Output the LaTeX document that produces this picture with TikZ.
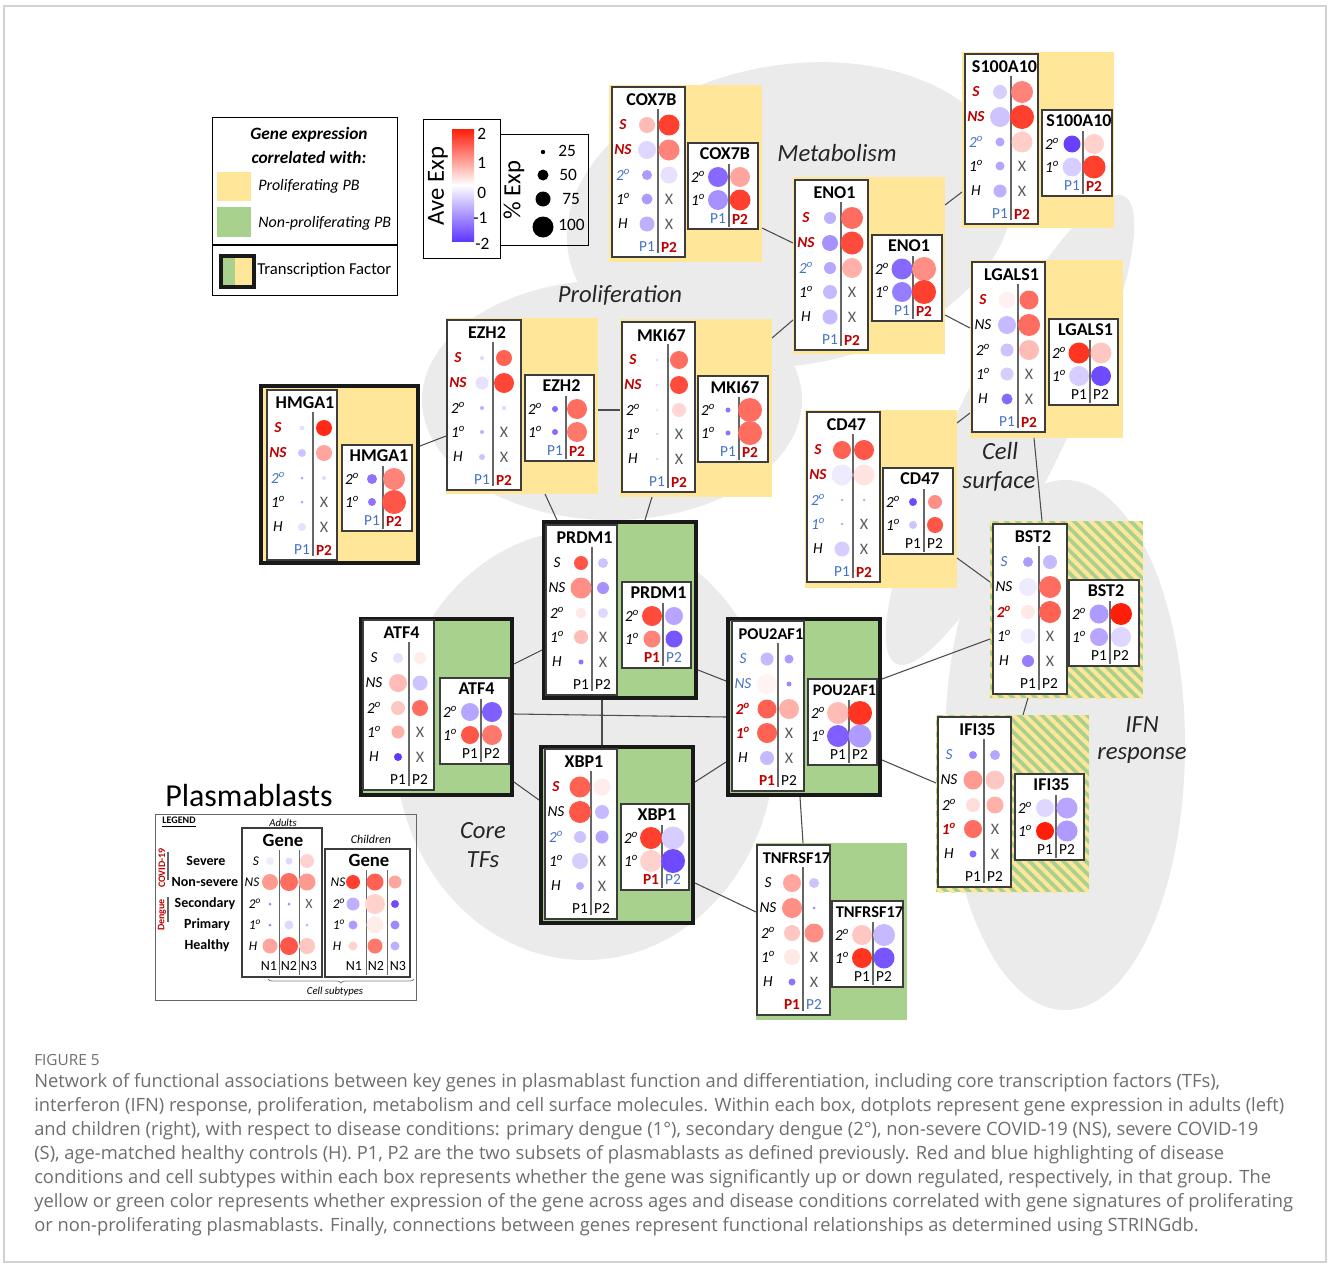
\documentclass[tikz,border=0pt]{standalone}
\usepackage{fontspec}
\setmainfont{Carlito}
\newfontfamily\capfont{Open Sans}
\usetikzlibrary{calc,patterns.meta,decorations.pathreplacing}
\definecolor{ybg}{HTML}{FFE699}
\definecolor{gbg}{HTML}{A9D18E}
\definecolor{lred}{HTML}{C00000}
\definecolor{lblue}{HTML}{4472C4}
\definecolor{dred}{RGB}{255,30,10}
\definecolor{dblue}{RGB}{95,55,255}
\definecolor{blob}{HTML}{EBEBEB}
\definecolor{pframe}{HTML}{3C3C3C}
\definecolor{capgray}{HTML}{6E6E6E}
\newcommand\dg{\textsuperscript{o}}
\newcommand\LR[1]{\textcolor{lred}{\bfseries #1}}
\newcommand\LB[1]{\textcolor{lblue}{#1}}
\newcommand\FB[1]{\textcolor{lblue}{#1}}
\newcommand\FR[1]{\textcolor{lred}{\bfseries #1}}
\tikzset{
  panel/.style={draw=pframe, line width=1.5pt, fill=white},
  vdiv/.style={draw=black!60, line width=0.9pt},
  gtitle/.style={font=\fontsize{13.5}{14}\selectfont\bfseries, inner sep=0pt},
  rlab/.style={font=\fontsize{11.5}{12}\selectfont\itshape, inner sep=0pt},
  foot/.style={font=\fontsize{11.5}{12}\selectfont, inner sep=0pt},
  xlab/.style={font=\fontsize{12}{12}\selectfont, text=black!65, inner sep=0pt},
  conn/.style={draw=black!70, line width=0.8pt},
  bgbase/.style={inner sep=0pt, outer sep=0pt, draw=none},
  ybox/.style={bgbase, fill=ybg},
  gbox/.style={bgbase, fill=gbg},
  ytf/.style={bgbase, fill=ybg, draw=black!90, line width=3.5pt},
  gtf/.style={bgbase, fill=gbg, draw=black!90, line width=3.5pt},
  hbox/.style={bgbase, fill=gbg, postaction={pattern={Lines[angle=-45,distance=6pt,line width=3pt]}, pattern color=ybg}},
  grp/.style={font=\fontsize{18.5}{19}\selectfont\itshape, text=black!85, inner sep=0pt},
  capline/.style={anchor=west, inner sep=0pt, text=capgray, font=\capfont\fontsize{13.75}{14}\selectfont},
  legtxt/.style={inner sep=0pt, font=\fontsize{12}{13}\selectfont},
  lgl/.style={inner sep=0pt, font=\fontsize{10.5}{11}\selectfont\bfseries},
}
\newcommand\bgbox[6]{\node[#1, anchor=north west, minimum width={(#5-#3)*0.75pt}, minimum height={(#6-#4)*0.75pt}] (#2) at (#3,#4) {};}
\newcommand\Apanel[4]{%
  \draw[panel] (0,0) rectangle (#1,170);
  \node[gtitle] at ({#1/2+3},13) {#2};
  \draw[vdiv] (46,22) -- (46,166);
  \node[foot] at (35,160) {#3};
  \node[foot] at (57,160) {#4};
}
\newcommand\Arow[6]{%
  \node[rlab] at (11,#1) {#2};
  \fill[#3] (35,#1) circle[radius=#4*0.75pt];
  \fill[#5] (57,#1) circle[radius=#6*0.75pt];
}
\newcommand\ArowX[4]{%
  \node[rlab] at (11,#1) {#2};
  \fill[#3] (35,#1) circle[radius=#4*0.75pt];
  \node[xlab] at (57,#1) {X};
}
\newcommand\Cpanel[4]{%
  \draw[panel] (0,0) rectangle (#1,86);
  \node[gtitle] at ({#1/2+2},11) {#2};
  \draw[vdiv] (41,21) -- (41,84);
  \node[foot] at (30,76) {#3};
  \node[foot] at (52,76) {#4};
}
\newcommand\Crow[6]{%
  \node[rlab] at (10,#1) {#2};
  \fill[#3] (30,#1) circle[radius=#4*0.75pt];
  \fill[#5] (52,#1) circle[radius=#6*0.75pt];
}
\newcommand\ld[4]{\fill[#3] (#1,#2) circle[radius=#4*0.75pt];}
\begin{document}
\begin{tikzpicture}[x=0.75pt,y=-0.75pt]
\useasboundingbox (0,0) rectangle (1328,1263);
\fill[white] (0,0) rectangle (1328,1263);
\draw[gray!35, line width=0.8pt] (4,6) rectangle (1326,1262);

% ---- background group blobs
\fill[blob, rotate around={10:(790,215)}] (790,215) ellipse [x radius=225, y radius=150];
\fill[blob] (612,400) ellipse [x radius=190, y radius=120];
\fill[blob] (585,745) ellipse [x radius=190, y radius=215];
\fill[blob, rotate around={64:(1010,430)}] (1010,430) ellipse [x radius=260, y radius=55];
\fill[blob] (1065,745) ellipse [x radius=120, y radius=265];

% ---- group labels
\node[grp] (gmet) at (837,153) {Metabolism};
\node[grp] (gpro) at (620,295) {Proliferation};
\node[grp] (gcs1) at (1000,451) {Cell};
\node[grp] (gcs2) at (999,481) {surface};
\node[grp] (gct1) at (483,831) {Core};
\node[grp] (gct2) at (483,860) {TFs};
\node[grp] (gif1) at (1142,725) {IFN};
\node[grp] (gif2) at (1142,755) {response};

% ================= gene boxes
% COX7B
\bgbox{ybox}{cox}{609}{85}{762}{262}
\begin{scope}[shift={(612,87)}]
 \Apanel{73}{COX7B}{\FB{P1}}{\FR{P2}}
 \Arow{38}{\LR{S}}{dred!30}{8}{dred!85}{10.5}
 \Arow{63}{\LR{NS}}{dblue!20}{9}{dred!55}{10.5}
 \Arow{88}{\LB{2\dg}}{dblue!50}{5}{dblue!15}{8.5}
 \ArowX{112}{1\dg}{dblue!50}{5.5}
 \ArowX{137}{H}{dblue!40}{7.5}
\end{scope}
\begin{scope}[shift={(688,143)}]
 \Cpanel{70}{COX7B}{\FB{P1}}{\FR{P2}}
 \Crow{34}{2\dg}{dblue!75}{10}{dred!40}{10}
 \Crow{57}{1\dg}{dblue!55}{10}{dred!85}{10.5}
\end{scope}

% S100A10
\bgbox{ybox}{s100}{962}{52}{1114}{228}
\begin{scope}[shift={(965,54)}]
 \Apanel{73}{S100A10}{\FB{P1}}{\FR{P2}}
 \Arow{38}{\LR{S}}{dblue!25}{7}{dred!55}{11}
 \Arow{63}{\LR{NS}}{dblue!30}{10}{dred!85}{12}
 \Arow{88}{\LB{2\dg}}{dblue!45}{4.5}{dred!22}{10.5}
 \ArowX{112}{1\dg}{dblue!45}{4.5}
 \ArowX{137}{H}{dblue!40}{6.5}
\end{scope}
\begin{scope}[shift={(1042,110)}]
 \Cpanel{70}{S100A10}{\FB{P1}}{\FR{P2}}
 \Crow{34}{2\dg}{dblue!95}{8.5}{dred!20}{10}
 \Crow{57}{1\dg}{dblue!25}{9.5}{dred!85}{11.5}
\end{scope}

% ENO1
\bgbox{ybox}{eno}{793}{177}{945}{354}
\begin{scope}[shift={(795,180)}]
 \Apanel{73}{ENO1}{\FB{P1}}{\FR{P2}}
 \Arow{38}{\LR{S}}{dblue!40}{6}{dred!65}{11}
 \Arow{63}{\LR{NS}}{dblue!55}{8}{dred!80}{11.5}
 \Arow{88}{\LB{2\dg}}{dblue!45}{6}{dred!35}{10}
 \ArowX{112}{1\dg}{dblue!35}{7}
 \ArowX{137}{H}{dblue!35}{7.5}
\end{scope}
\begin{scope}[shift={(872,235)}]
 \Cpanel{70}{ENO1}{\FB{P1}}{\FR{P2}}
 \Crow{34}{2\dg}{dblue!75}{10.5}{dred!50}{12}
 \Crow{57}{1\dg}{dblue!65}{10}{dred!85}{12}
\end{scope}

% EZH2
\bgbox{ybox}{ezh}{446}{318}{598}{494}
\begin{scope}[shift={(447,320)}]
 \Apanel{74}{EZH2}{\FB{P1}}{\FR{P2}}
 \Arow{38}{\LR{S}}{dblue!20}{2}{dred!70}{8}
 \Arow{63}{\LR{NS}}{dblue!15}{6.5}{dred!82}{10}
 \Arow{88}{2\dg}{dblue!40}{2}{dblue!20}{2}
 \ArowX{112}{1\dg}{dblue!40}{2}
 \ArowX{137}{H}{dblue!30}{3}
\end{scope}
\begin{scope}[shift={(525,375)}]
 \Cpanel{69}{EZH2}{\FB{P1}}{\FR{P2}}
 \Crow{34}{2\dg}{dblue!75}{3}{dred!65}{10}
 \Crow{57}{1\dg}{dblue!75}{3}{dred!60}{10}
\end{scope}

% MKI67
\bgbox{ybox}{mki}{620}{319}{772}{497}
\begin{scope}[shift={(622,322)}]
 \Apanel{73}{MKI67}{\FB{P1}}{\FR{P2}}
 \Arow{38}{\LR{S}}{dblue!20}{1.5}{dred!65}{9}
 \Arow{63}{\LR{NS}}{dblue!20}{1.5}{dred!80}{9}
 \Arow{88}{2\dg}{dblue!15}{1.5}{dred!18}{7}
 \ArowX{112}{1\dg}{dblue!20}{1.5}
 \ArowX{137}{H}{dblue!20}{1.5}
\end{scope}
\begin{scope}[shift={(698,376)}]
 \Cpanel{70}{MKI67}{\FB{P1}}{\FR{P2}}
 \Crow{34}{2\dg}{dblue!70}{2.5}{dred!65}{12}
 \Crow{57}{1\dg}{dblue!70}{2.5}{dred!65}{12}
\end{scope}

% HMGA1 (TF)
\bgbox{ytf}{hmg}{261}{386}{418}{563}
\begin{scope}[shift={(267,390)}]
 \Apanel{70}{HMGA1}{\FB{P1}}{\FR{P2}}
 \Arow{38}{\LR{S}}{dblue!15}{2.5}{dred!95}{8}
 \Arow{63}{\LR{NS}}{dblue!30}{4}{dred!40}{8}
 \Arow{88}{\LB{2\dg}}{dblue!45}{1.5}{dblue!20}{2}
 \ArowX{112}{1\dg}{dblue!45}{1.5}
 \ArowX{137}{H}{dblue!15}{4}
\end{scope}
\begin{scope}[shift={(342,445)}]
 \Cpanel{70}{HMGA1}{\FB{P1}}{\FR{P2}}
 \Crow{34}{2\dg}{dblue!70}{5}{dred!55}{11}
 \Crow{57}{1\dg}{dblue!70}{4}{dred!75}{12}
\end{scope}

% LGALS1
\bgbox{ybox}{lgal}{970}{260}{1123}{438}
\begin{scope}[shift={(972,262)}]
 \Apanel{73}{LGALS1}{\FB{P1}}{\FR{P2}}
 \Arow{38}{\LR{S}}{dred!6}{8.5}{dred!65}{9.5}
 \Arow{63}{NS}{dblue!35}{9}{dred!65}{11}
 \Arow{88}{2\dg}{dblue!30}{6.5}{dred!30}{10}
 \ArowX{112}{1\dg}{dblue!25}{6.5}
 \ArowX{137}{H}{dblue!75}{5.5}
\end{scope}
\begin{scope}[shift={(1049,319)}]
 \Cpanel{69}{LGALS1}{P1}{P2}
 \Crow{34}{2\dg}{dred!90}{10.5}{dred!25}{10.5}
 \Crow{57}{1\dg}{dblue!25}{10}{dblue!90}{10}
\end{scope}

% CD47
\bgbox{ybox}{cd}{805}{410}{957}{588}
\begin{scope}[shift={(807,412)}]
 \Apanel{73}{CD47}{\FB{P1}}{\FR{P2}}
 \Arow{38}{\LR{S}}{dred!70}{9}{dred!75}{10}
 \Arow{63}{\LR{NS}}{dblue!10}{10.5}{dred!12}{10.5}
 \Arow{88}{\LB{2\dg}}{dblue!40}{1.5}{dblue!40}{1.5}
 \ArowX{112}{\LB{1\dg}}{dblue!40}{1.5}
 \ArowX{137}{H}{dblue!25}{7.5}
\end{scope}
\begin{scope}[shift={(883,468)}]
 \Cpanel{70}{CD47}{P1}{P2}
 \Crow{34}{2\dg}{dblue!90}{4}{dred!50}{7}
 \Crow{57}{1\dg}{dblue!30}{4}{dred!75}{8}
\end{scope}

% BST2
\bgbox{hbox}{bst}{990}{521}{1143}{698}
\begin{scope}[shift={(993,524)}]
 \Apanel{74}{BST2}{P1}{P2}
 \Arow{38}{\LB{S}}{dblue!50}{5}{dblue!35}{7}
 \Arow{63}{NS}{dblue!10}{9}{dred!65}{11}
 \Arow{88}{\LR{2\dg}}{dred!10}{7}{dred!70}{11}
 \ArowX{112}{1\dg}{dblue!10}{7.5}
 \ArowX{137}{H}{dblue!65}{6}
\end{scope}
\begin{scope}[shift={(1069,580)}]
 \Cpanel{70}{BST2}{P1}{P2}
 \Crow{34}{2\dg}{dblue!50}{9.5}{dred!100}{11}
 \Crow{57}{1\dg}{dblue!45}{9}{dblue!20}{10}
\end{scope}

% IFI35
\bgbox{hbox}{ifi}{936}{715}{1089}{892}
\begin{scope}[shift={(938,717)}]
 \Apanel{73}{IFI35}{P1}{P2}
 \Arow{38}{\LB{S}}{dblue!60}{4}{dblue!45}{5}
 \Arow{63}{NS}{dred!45}{9.5}{dred!25}{9.5}
 \Arow{88}{2\dg}{dred!15}{7}{dred!35}{8.5}
 \ArowX{112}{\LR{1\dg}}{dred!65}{9}
 \ArowX{137}{H}{dblue!75}{3.5}
\end{scope}
\begin{scope}[shift={(1015,774)}]
 \Cpanel{69}{IFI35}{P1}{P2}
 \Crow{34}{2\dg}{dblue!20}{9}{dblue!45}{10.5}
 \Crow{57}{1\dg}{dred!100}{9}{dblue!50}{10.5}
\end{scope}

% PRDM1 (TF)
\bgbox{gtf}{prdm}{544}{522}{696}{698}
\begin{scope}[shift={(546,525)}]
 \Apanel{71}{PRDM1}{P1}{P2}
 \Arow{38}{S}{dred!75}{7}{dblue!30}{5}
 \Arow{63}{NS}{dred!50}{10.5}{dblue!55}{6}
 \Arow{88}{2\dg}{dred!10}{5.5}{dblue!20}{5}
 \ArowX{112}{1\dg}{dred!30}{7}
 \ArowX{137}{H}{dblue!70}{2.5}
\end{scope}
\begin{scope}[shift={(622,582)}]
 \Cpanel{69}{PRDM1}{\FR{P1}}{\FB{P2}}
 \Crow{34}{2\dg}{dred!80}{10}{dblue!45}{9}
 \Crow{57}{1\dg}{dred!55}{8.5}{dblue!85}{8.5}
\end{scope}

% ATF4 (TF)
\bgbox{gtf}{atf}{361}{619}{512}{795}
\begin{scope}[shift={(363,620)}]
 \Apanel{71}{ATF4}{P1}{P2}
 \Arow{38}{S}{dblue!15}{5}{dred!8}{6}
 \Arow{63}{NS}{dred!30}{9}{dblue!30}{7.5}
 \Arow{88}{2\dg}{dred!25}{7}{dred!65}{8}
 \ArowX{112}{1\dg}{dred!35}{6.5}
 \ArowX{137}{H}{dblue!100}{4}
\end{scope}
\begin{scope}[shift={(440,678)}]
 \Cpanel{69}{ATF4}{P1}{P2}
 \Crow{34}{2\dg}{dblue!45}{9}{dblue!80}{10}
 \Crow{57}{1\dg}{dred!75}{9}{dred!60}{10}
\end{scope}

% POU2AF1 (TF)
\bgbox{gtf}{pou}{728}{619}{880}{795}
\begin{scope}[shift={(732,621)}]
 \Apanel{72}{{\fontsize{12.3}{13}\selectfont POU2AF1}}{\FR{P1}}{P2}
 \Arow{38}{\LB{S}}{dblue!35}{6.5}{dblue!50}{4.5}
 \Arow{63}{\LB{NS}}{dred!5}{10}{dblue!60}{2.5}
 \Arow{88}{\LR{2\dg}}{dred!70}{9.5}{dred!35}{10}
 \ArowX{112}{\LR{1\dg}}{dred!70}{10}
 \ArowX{137}{H}{dblue!35}{7}
\end{scope}
\begin{scope}[shift={(808,679)}]
 \Cpanel{69}{{\fontsize{12}{13}\selectfont POU2AF1}}{P1}{P2}
 \Crow{34}{2\dg}{dred!30}{11}{dred!90}{12}
 \Crow{57}{1\dg}{dblue!80}{11}{dblue!50}{11.5}
\end{scope}

% XBP1 (TF)
\bgbox{gtf}{xbp}{541}{747}{693}{923}
\begin{scope}[shift={(545,749)}]
 \Apanel{72}{XBP1}{P1}{P2}
 \Arow{38}{\LR{S}}{dred!70}{10.5}{dred!8}{8.5}
 \Arow{63}{NS}{dred!75}{11}{dblue!35}{7}
 \Arow{88}{\LB{2\dg}}{dblue!30}{6}{dblue!45}{6.5}
 \ArowX{112}{1\dg}{dblue!25}{8}
 \ArowX{137}{H}{dblue!45}{4}
\end{scope}
\begin{scope}[shift={(621,804)}]
 \Cpanel{68}{XBP1}{\FR{P1}}{\FB{P2}}
 \Crow{34}{2\dg}{dred!85}{11}{dblue!25}{11.5}
 \Crow{57}{1\dg}{dred!20}{11}{dblue!90}{12}
\end{scope}

% TNFRSF17
\bgbox{gbox}{tnf}{756}{843}{907}{1020}
\begin{scope}[shift={(757,845)}]
 \Apanel{73}{{\fontsize{12.3}{13}\selectfont TNFRSF17}}{\FR{P1}}{\FB{P2}}
 \Arow{38}{S}{dred!40}{9}{dblue!30}{5}
 \Arow{63}{NS}{dred!50}{10}{dblue!60}{1.5}
 \Arow{88}{2\dg}{dred!25}{8}{dred!50}{9.5}
 \ArowX{112}{1\dg}{dred!10}{8}
 \ArowX{137}{H}{dblue!70}{3.5}
\end{scope}
\begin{scope}[shift={(832,901)}]
 \Cpanel{71}{{\fontsize{12.3}{13}\selectfont TNFRSF17}}{P1}{P2}
 \Crow{34}{2\dg}{dred!25}{10}{dblue!35}{11}
 \Crow{57}{1\dg}{dred!90}{10}{dblue!85}{10.5}
\end{scope}

% ================= connectors
\draw[conn] ($(cox.north east)+(0,143)$) -- ($(eno.north west)+(0,66)$);
\draw[conn] ($(mki.north east)+(0,19)$) -- ($(eno.north west)+(0,143)$);
\draw[conn] ($(eno.north east)+(0,28)$) -- ($(s100.north west)+(0,140)$);
\draw[conn] ($(eno.north east)+(0,138)$) -- ($(lgal.north west)+(0,68)$);
\draw[conn] ($(cd.north east)+(0,13)$) -- ($(lgal.north west)+(0,153)$);
\draw[conn] ($(lgal.south west)+(64,0)$) -- ($(bst.north west)+(52,0)$);
\draw[conn] ($(cd.north east)+(0,148)$) -- ($(bst.north west)+(0,61)$);
\draw[conn] ($(pou.north east)+(2,60)$) -- ($(bst.north west)+(0,118)$);
\draw[conn] ($(bst.south west)+(38,0)$) -- ($(ifi.north west)+(87,0)$);
\draw[conn] ($(pou.north east)+(2,141)$) -- ($(ifi.north west)+(0,68)$);
\draw[conn] ($(prdm.north east)+(2,148)$) -- ($(pou.north west)+(-2,62)$);
\draw[conn] ($(atf.north east)+(2,45)$) -- ($(prdm.north west)+(-2,128)$);
\draw[conn] ($(atf.north east)+(2,95)$) -- ($(pou.north west)+(-2,98)$);
\draw[conn] ($(atf.north east)+(2,163)$) -- ($(xbp.north west)+(-2,53)$);
\draw[conn] ($(prdm.south west)+(58,2)$) -- ($(xbp.north west)+(61,-2)$);
\draw[conn] ($(xbp.north east)+(2,35)$) -- ($(pou.north west)+(-2,143)$);
\draw[conn] ($(xbp.north east)+(2,136)$) -- ($(tnf.north west)+(0,69)$);
\draw[conn] ($(pou.south west)+(72,2)$) -- ($(tnf.north west)+(47,0)$);
\draw[conn] ($(ezh.south west)+(99,0)$) -- ($(prdm.north west)+(13,-2)$);
\draw[conn] ($(mki.south west)+(32,0)$) -- ($(prdm.north west)+(101,-2)$);
\draw[conn] ($(hmg.north east)+(2,60)$) -- ($(ezh.north west)+(0,118)$);
\draw[conn] ($(ezh.north east)+(0,92)$) -- ($(mki.north west)+(0,91)$);

% ================= legend: correlation
\node[draw=black, line width=1pt, inner sep=0pt, anchor=north west, minimum width={185*0.75pt}, minimum height={178*0.75pt}] (leg) at (212,117) {};
\draw[black, line width=1pt] (212,245) -- (397,245);
\node[legtxt, font=\fontsize{13}{13}\selectfont\bfseries\itshape] (legt1) at (309,135) {Gene expression};
\node[legtxt, font=\fontsize{13}{13}\selectfont\bfseries\itshape] (legt2) at (309,157) {correlated with:};
\node[fill=ybg, inner sep=0pt, anchor=north west, minimum width={34*0.75pt}, minimum height={29*0.75pt}] (legy) at (217,172) {};
\node[fill=gbg, inner sep=0pt, anchor=north west, minimum width={34*0.75pt}, minimum height={30*0.75pt}] (legg) at (217,207) {};
\node[legtxt, font=\fontsize{12}{13}\selectfont\itshape, anchor=west] (legyt) at (258,186) {Proliferating PB};
\node[legtxt, font=\fontsize{12}{13}\selectfont\itshape, anchor=west] (leggt) at (258,223) {Non-proliferating PB};
\fill[gbg] (219,254) rectangle (235,285);
\fill[ybg] (235,254) rectangle (252,285);
\node[draw=black!90, line width=3pt, inner sep=0pt, anchor=north west, minimum width={33*0.75pt}, minimum height={31*0.75pt}] (legtf) at (219,254) {};
\node[legtxt, anchor=west, font=\fontsize{12.5}{13}\selectfont] (legtft) at (257,270) {Transcription Factor};

% ================= legend: colour and size
\node[draw=black, line width=1pt, inner sep=0pt, anchor=north west, minimum width={77*0.75pt}, minimum height={139*0.75pt}] (cbar) at (423,119) {};
\shade[top color=dred, bottom color=white] (452,129) rectangle (474,185);
\shade[top color=white, bottom color=dblue] (452,185) rectangle (474,241);
\node[inner sep=0pt, rotate=90, font=\fontsize{18.5}{19}\selectfont] (cbt) at (438,186) {Ave Exp};
\node[legtxt, font=\fontsize{13}{13}\selectfont, anchor=west] (cb2) at (477,134) {2};
\node[legtxt, font=\fontsize{13}{13}\selectfont, anchor=west] (cb1) at (477,163) {1};
\node[legtxt, font=\fontsize{13}{13}\selectfont, anchor=west] (cb0) at (477,193) {0};
\node[legtxt, font=\fontsize{13}{13}\selectfont, anchor=west] (cbm1) at (473,218) {-1};
\node[legtxt, font=\fontsize{13}{13}\selectfont, anchor=west] (cbm2) at (475,244) {-2};
\node[draw=black, line width=1pt, inner sep=0pt, anchor=north west, minimum width={88*0.75pt}, minimum height={111*0.75pt}] (sbar) at (500,134) {};
\node[inner sep=0pt, rotate=90, font=\fontsize{18.5}{19}\selectfont] (sbt) at (514,190) {\% Exp};
\ld{543}{152}{black}{2.2}
\ld{543}{175}{black}{5.5}
\ld{543}{199}{black}{7.5}
\ld{543}{227}{black}{10.5}
\node[legtxt, font=\fontsize{13}{13}\selectfont, anchor=west] (s25) at (558,151) {25};
\node[legtxt, font=\fontsize{13}{13}\selectfont, anchor=west] (s50) at (559,175) {50};
\node[legtxt, font=\fontsize{13}{13}\selectfont, anchor=west] (s75) at (562,199) {75};
\node[legtxt, font=\fontsize{13}{13}\selectfont, anchor=west] (s100) at (558,225) {100};

% ================= legend: plasmablasts
\node[inner sep=0pt, font=\fontsize{24}{24}\selectfont] (plt) at (249,795) {Plasmablasts};
\node[draw=black!60, line width=0.8pt, inner sep=0pt, anchor=north west, minimum width={261*0.75pt}, minimum height={186*0.75pt}] (lgb) at (155,814) {};
\node[inner sep=0pt, font=\fontsize{7.5}{8}\selectfont\bfseries] (lgt) at (179,822) {\underline{LEGEND}};
\node[inner sep=0pt, font=\fontsize{8}{8}\selectfont\itshape] (lga) at (283,823) {Adults};
\node[inner sep=0pt, font=\fontsize{9}{9}\selectfont\itshape] (lgc) at (371,839) {Children};
\draw[pframe, line width=1.2pt] (242,828) rectangle (322,977);
\draw[pframe, line width=1.2pt] (325,849) rectangle (410,977);
\node[inner sep=0pt, font=\fontsize{14}{14}\selectfont\bfseries] (lgg1) at (283,840) {Gene};
\node[inner sep=0pt, font=\fontsize{14}{14}\selectfont\bfseries] (lgg2) at (369,860) {Gene};
\draw[vdiv, line width=0.7pt] (279,850) -- (279,975);
\draw[vdiv, line width=0.7pt] (299,850) -- (299,975);
\draw[vdiv, line width=0.7pt] (366,870) -- (366,975);
\draw[vdiv, line width=0.7pt] (387,870) -- (387,975);
\node[lgl] (lr1) at (206,861) {Severe};
\node[lgl] (lr2) at (205,882) {Non-severe};
\node[lgl] (lr3) at (205,904) {Secondary};
\node[lgl] (lr4) at (207,925) {Primary};
\node[lgl] (lr5) at (207,946) {Healthy};
\node[inner sep=0pt, rotate=90, text=lred, font=\fontsize{7.5}{8}\selectfont\bfseries] (lcov) at (162,868) {COVID-19};
\node[inner sep=0pt, rotate=90, text=lred, font=\fontsize{7.5}{8}\selectfont\bfseries] (lden) at (162,915) {Dengue};
\draw[black!60, line width=0.8pt] (168,852) -- (168,880);
\draw[black!60, line width=0.8pt] (168,897) -- (168,922);
\begin{scope}[every node/.style={inner sep=0pt, font=\fontsize{10}{10}\selectfont\itshape}]
\node (la1) at (256,861) {S};
\node (la2) at (252,882) {NS};
\node (la3) at (255,904) {2\dg};
\node (la4) at (255,925) {1\dg};
\node (la5) at (253,946) {H};
\node (lc2) at (338,882) {NS};
\node (lc3) at (339,904) {2\dg};
\node (lc4) at (339,925) {1\dg};
\node (lc5) at (337,946) {H};
\end{scope}
\begin{scope}[every node/.style={inner sep=0pt, font=\fontsize{10.5}{10}\selectfont}]
\node (ln1) at (269,966) {N1};
\node (ln2) at (289,966) {N2};
\node (ln3) at (309,966) {N3};
\node (ln4) at (354,966) {N1};
\node (ln5) at (376,966) {N2};
\node (ln6) at (398,966) {N3};
\node[text=black!65] (lnx) at (309,904) {X};
\end{scope}
% adult legend dots
\ld{270}{861}{dblue!10}{4}\ld{289}{861}{dblue!20}{3.5}\ld{307}{861}{dred!20}{7}
\ld{270}{882}{dred!45}{8}\ld{289}{882}{dred!65}{9}\ld{307}{882}{dred!45}{8.5}
\ld{270}{904}{dblue!60}{1.5}\ld{289}{904}{dblue!60}{1.5}
\ld{270}{925}{dblue!60}{1.5}\ld{289}{925}{dblue!20}{4.5}\ld{307}{925}{dblue!40}{1.5}
\ld{270}{946}{dred!40}{7.5}\ld{289}{946}{dred!75}{9}\ld{307}{946}{dred!25}{8}
% children legend dots
\ld{353}{882}{dred!85}{7}\ld{375}{882}{dred!70}{8.5}\ld{395}{882}{dred!40}{6.5}
\ld{353}{904}{dblue!40}{6.5}\ld{375}{904}{dred!20}{10}\ld{395}{904}{dblue!90}{4}
\ld{353}{925}{dblue!50}{4.5}\ld{375}{925}{dred!8}{8.5}\ld{395}{925}{dblue!60}{4.5}
\ld{353}{946}{dred!20}{4.5}\ld{375}{946}{dred!60}{7.5}\ld{395}{946}{dblue!40}{4.5}
\draw[black!50, line width=0.6pt, decorate, decoration={brace, amplitude=3pt}] (414,979) -- (268,979);
\node[inner sep=0pt, font=\fontsize{8}{8}\selectfont\itshape] (lcs) at (335,992) {Cell subtypes};

% ================= caption
\node[inner sep=0pt, anchor=west, text=capgray, font=\capfont\fontsize{11.5}{12}\selectfont] (fig) at (34,1060) {FIGURE 5};
\node[capline] (c1) at (34,1083) {Network of functional associations between key genes in plasmablast function and differentiation, including core transcription factors (TFs),};
\node[capline] (c2) at (34,1107) {interferon (IFN) response, proliferation, metabolism and cell surface molecules. Within each box, dotplots represent gene expression in adults (left)};
\node[capline] (c3) at (34,1131) {and children (right), with respect to disease conditions: primary dengue (1°), secondary dengue (2°), non-severe COVID-19 (NS), severe COVID-19};
\node[capline] (c4) at (34,1155) {(S), age-matched healthy controls (H). P1, P2 are the two subsets of plasmablasts as defined previously. Red and blue highlighting of disease};
\node[capline] (c5) at (34,1179) {conditions and cell subtypes within each box represents whether the gene was significantly up or down regulated, respectively, in that group. The};
\node[capline] (c6) at (34,1203) {yellow or green color represents whether expression of the gene across ages and disease conditions correlated with gene signatures of proliferating};
\node[capline] (c7) at (34,1227) {or non-proliferating plasmablasts. Finally, connections between genes represent functional relationships as determined using STRINGdb.};
\end{tikzpicture}
\end{document}
